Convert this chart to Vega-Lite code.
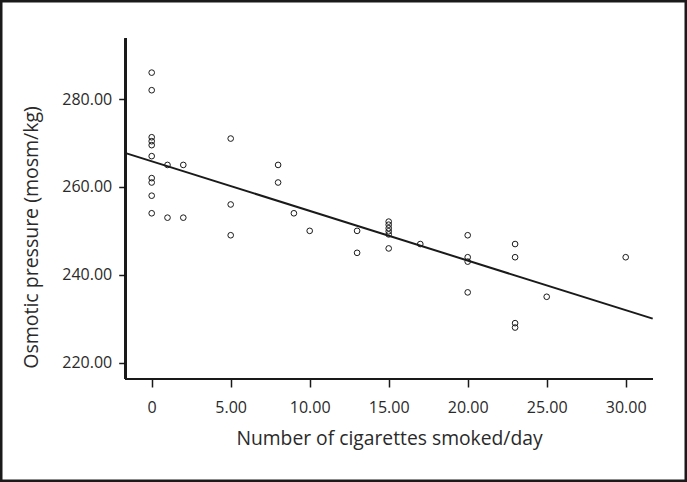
{
  "$schema": "https://vega.github.io/schema/vega-lite/v6.json",
  "width": 687,
  "height": 482,
  "autosize": "none",
  "padding": 0,
  "background": "white",
  "config": {
    "view": {"stroke": "#1a1a1a", "strokeWidth": 5},
    "font": "Open Sans"
  },
  "data": {
    "values": [
      {"cigarettes": 0, "osmotic": 286},
      {"cigarettes": 0, "osmotic": 282},
      {"cigarettes": 0, "osmotic": 271.3},
      {"cigarettes": 0, "osmotic": 270.4},
      {"cigarettes": 0, "osmotic": 269.5},
      {"cigarettes": 0, "osmotic": 267},
      {"cigarettes": 0, "osmotic": 262},
      {"cigarettes": 0, "osmotic": 261},
      {"cigarettes": 0, "osmotic": 258},
      {"cigarettes": 0, "osmotic": 254},
      {"cigarettes": 1, "osmotic": 265},
      {"cigarettes": 1, "osmotic": 253},
      {"cigarettes": 2, "osmotic": 265},
      {"cigarettes": 2, "osmotic": 253},
      {"cigarettes": 5, "osmotic": 271},
      {"cigarettes": 5, "osmotic": 256},
      {"cigarettes": 5, "osmotic": 249},
      {"cigarettes": 8, "osmotic": 265},
      {"cigarettes": 8, "osmotic": 261},
      {"cigarettes": 9, "osmotic": 254},
      {"cigarettes": 10, "osmotic": 250},
      {"cigarettes": 13, "osmotic": 250},
      {"cigarettes": 13, "osmotic": 245},
      {"cigarettes": 15, "osmotic": 252.1},
      {"cigarettes": 15, "osmotic": 251.4},
      {"cigarettes": 15, "osmotic": 250.6},
      {"cigarettes": 15, "osmotic": 249.9},
      {"cigarettes": 15, "osmotic": 249.2},
      {"cigarettes": 15, "osmotic": 246},
      {"cigarettes": 17, "osmotic": 247},
      {"cigarettes": 20, "osmotic": 249},
      {"cigarettes": 20, "osmotic": 244},
      {"cigarettes": 20, "osmotic": 243},
      {"cigarettes": 20, "osmotic": 236},
      {"cigarettes": 23, "osmotic": 247},
      {"cigarettes": 23, "osmotic": 244},
      {"cigarettes": 23, "osmotic": 229},
      {"cigarettes": 23, "osmotic": 228},
      {"cigarettes": 25, "osmotic": 235},
      {"cigarettes": 30, "osmotic": 244}
    ]
  },
  "layer": [
    {
      "mark": {"type": "point", "shape": "circle", "filled": false, "color": "#1a1a1a", "size": 32, "strokeWidth": 1, "opacity": 1},
      "encoding": {
        "x": {
          "field": "cigarettes",
          "type": "quantitative",
          "scale": {"domain": [-9.601, 33.88], "nice": false, "zero": false},
          "axis": {
            "title": "Number of cigarettes smoked/day",
            "values": [0, 5, 10, 15, 20, 25, 30],
            "labelExpr": "datum.value == 0 ? '0' : format(datum.value, '.2f')",
            "offset": -103,
            "domain": false,
            "grid": false,
            "tickSize": 8,
            "tickWidth": 1.5,
            "tickColor": "#1a1a1a",
            "labelFontSize": 16,
            "labelColor": "#2a2a2a",
            "labelPadding": 12,
            "labelFlush": false,
            "labelOverlap": false,
            "titleFontSize": 19.3,
            "titleFontWeight": "normal",
            "titleColor": "#2a2a2a",
            "titlePadding": 14,
            "titleX": 389,
            "titleAnchor": "start",
            "titleAlign": "center"
          }
        },
        "y": {
          "field": "osmotic",
          "type": "quantitative",
          "scale": {"domain": [192.856, 302.526], "nice": false, "zero": false},
          "axis": {
            "title": "Osmotic pressure (mosm/kg)",
            "values": [220, 240, 260, 280],
            "format": ".2f",
            "offset": -125.7,
            "domain": false,
            "grid": false,
            "tickSize": 7,
            "tickWidth": 1.5,
            "tickColor": "#1a1a1a",
            "labelFontSize": 16,
            "labelColor": "#2a2a2a",
            "labelPadding": 7,
            "labelFlush": false,
            "labelOverlap": false,
            "titleFontSize": 19.5,
            "titleFontWeight": "normal",
            "titleColor": "#2a2a2a",
            "titlePadding": 20,
            "titleY": 237,
            "titleAnchor": "start",
            "titleAlign": "center"
          }
        }
      }
    },
    {
      "transform": [{"regression": "osmotic", "on": "cigarettes", "extent": [-1.646, 31.71]}],
      "mark": {"type": "line", "color": "#1a1a1a", "strokeWidth": 2},
      "encoding": {
        "x": {"field": "cigarettes", "type": "quantitative", "title": "Number of cigarettes smoked/day"},
        "y": {"field": "osmotic", "type": "quantitative", "title": "Osmotic pressure (mosm/kg)"}
      }
    },
    {
      "mark": {"type": "rule", "color": "#1a1a1a", "strokeWidth": 1.5},
      "encoding": {
        "x": {"datum": -1.646, "type": "quantitative"},
        "y": {"datum": 216.3, "type": "quantitative"},
        "y2": {"datum": 293.8}
      }
    },
    {
      "mark": {"type": "rule", "color": "#1a1a1a", "strokeWidth": 1.5},
      "encoding": {
        "y": {"datum": 216.3, "type": "quantitative"},
        "x": {"datum": -1.646, "type": "quantitative"},
        "x2": {"datum": 31.71}
      }
    }
  ]
}
